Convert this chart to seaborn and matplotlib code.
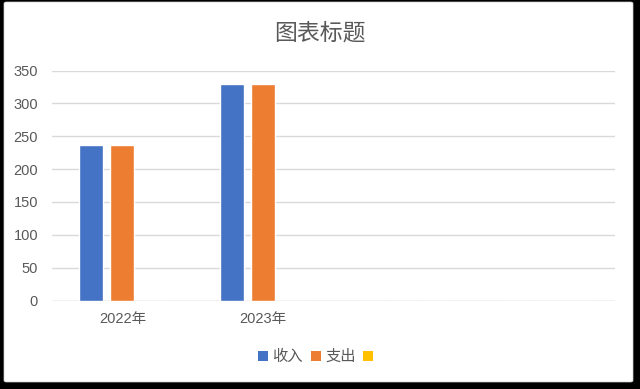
import pandas as pd
import numpy as np
import matplotlib.pyplot as plt
import seaborn as sns
from matplotlib.patches import Patch, FancyBboxPatch

categories = ["2022年", "2023年", " ", "  "]
series = ["收入", "支出", " "]
income = [237, 329, 0, 0]
expense = [237, 329, 0, 0]
third = [0, 0, 0, 0]
colors = ["#4472C4", "#ED7D31", "#FFC000"]

df = pd.DataFrame({
    "category": categories * 3,
    "series": [series[0]] * 4 + [series[1]] * 4 + [series[2]] * 4,
    "value": income + expense + third,
})

sns.set_theme(style="white")
plt.rcParams["font.family"] = ["Liberation Sans", "Noto Sans CJK SC", "DejaVu Sans"]
text_color = "#595959"

fig = plt.figure(figsize=(6.4, 3.89), dpi=100)
fig.patch.set_facecolor("black")
bg = FancyBboxPatch((4 / 640, 7 / 389), 629 / 640, 380 / 389,
                    boxstyle="round,pad=0,rounding_size=0.004",
                    transform=fig.transFigure, facecolor="white",
                    edgecolor="#d0d0d0", linewidth=0.5, zorder=-10)
fig.patches.append(bg)

ax = fig.add_axes([52 / 640, 1 - 300.5 / 389, 563 / 640, 230 / 389])
ax.set_facecolor("none")
sns.barplot(data=df, x="category", y="value", hue="series", order=categories,
            hue_order=series, palette=colors, saturation=1, width=0.66, gap=0.23,
            legend=False, ax=ax, zorder=3)

ax.set_ylim(0, 350)
ax.set_yticks(np.arange(0, 351, 50))
ax.set_xlim(-0.5, 3.5)
ax.grid(axis="y", color="#D9D9D9", linewidth=1, zorder=0)
for s in ax.spines.values():
    s.set_visible(False)
ax.axhline(0, color="#D9D9D9", linewidth=1, zorder=2)
ax.tick_params(axis="both", length=0, labelsize=10.5, colors=text_color, pad=8)
ax.tick_params(axis="y", pad=10)
ax.set_xlabel("")
ax.set_ylabel("")

fig.text(0.5, 1 - 33 / 389, "图表标题", ha="center", va="center",
         fontsize=16.5, color=text_color)

handles = [Patch(facecolor=c, edgecolor="none") for c in colors]
fig.legend(handles, series, loc="center", bbox_to_anchor=(320 / 640, 1 - 357 / 389),
           ncol=3, frameon=False, fontsize=11, labelcolor=text_color,
           handlelength=0.65, handleheight=0.65, handletextpad=0.3, columnspacing=0.5)

fig.savefig("out.png", dpi=100, facecolor=fig.get_facecolor())
